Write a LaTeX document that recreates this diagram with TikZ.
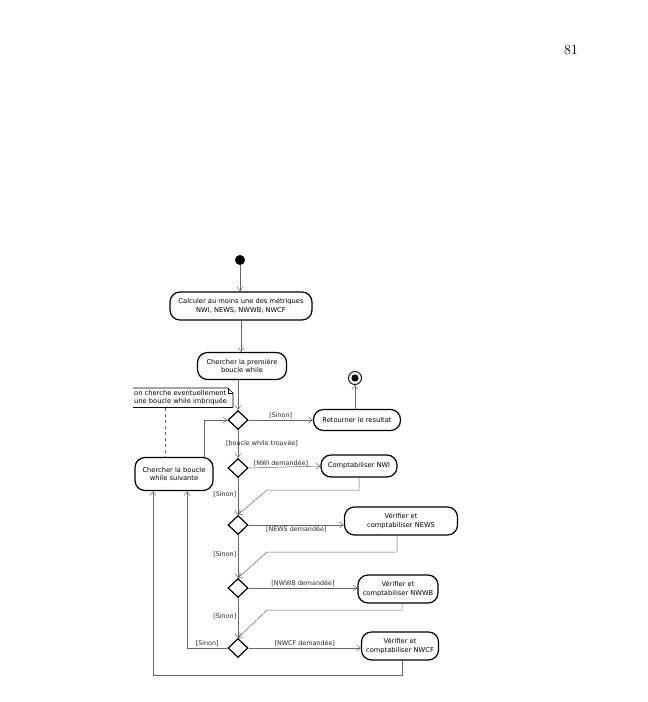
\documentclass[tikz,border=0pt]{standalone}
\usepackage{fontspec}
\newfontfamily\umlfont{DejaVu Sans}
\usetikzlibrary{arrows.meta,shapes.geometric,calc}
\begin{document}
\begin{tikzpicture}[x=1pt,y=-1pt,
  act/.style={draw=black,line width=1.2pt,rounded corners=10pt,
    font=\umlfont\fontsize{6.7}{8.6}\selectfont,align=center,inner sep=0pt},
  dec/.style={draw=black,line width=1.2pt,diamond,inner sep=0pt,
    minimum width=20pt,minimum height=19pt},
  flow/.style={draw=black!60,line width=0.5pt,-{Straight Barb[length=4pt,width=6pt]}},
  guard/.style={font=\umlfont\fontsize{6.4}{7.5}\selectfont,inner sep=0.5pt,text=black!85}]
\useasboundingbox (0,0) rectangle (648,702);
\node[font=\fontsize{14}{16}\selectfont] (pg) at (571,50) {81};

\node[circle,fill=black,minimum size=10pt,inner sep=0pt] (start) at (240,260) {};
\node[act,minimum width=142pt,minimum height=28pt] (calc) at (241,306)
  {Calculer au moins une des métriques\\NWI, NEWS, NWWB, NWCF};
\node[act,minimum width=89pt,minimum height=27pt] (first) at (242,366)
  {Chercher la première\\boucle while};
\node[circle,draw=black,line width=0.9pt,minimum size=13pt,inner sep=0pt] (end) at (355,378) {};
\fill[black] (end.center) circle (3.6pt);

\node[dec] (d1) at (238,420) {};
\node[dec] (d2) at (238,468) {};
\node[dec] (d3) at (238,525) {};
\node[dec] (d4) at (238,588) {};
\node[dec] (d5) at (238,648) {};

\node[act,minimum width=87pt,minimum height=21pt] (ret) at (357,420) {Retourner le resultat};
\node[act,minimum width=76pt,minimum height=22pt] (nwi) at (359,466) {Comptabiliser NWI};
\node[act,minimum width=113pt,minimum height=28pt] (news) at (401,521) {Vérifier et\\comptabiliser NEWS};
\node[act,minimum width=80pt,minimum height=28pt] (nwwb) at (398,589) {Vérifier et\\comptabiliser NWWB};
\node[act,minimum width=77pt,minimum height=28pt] (nwcf) at (400,646) {Vérifier et\\comptabiliser NWCF};
\node[act,minimum width=78pt,minimum height=33pt] (next) at (174,474) {Chercher la boucle\\while suivante};

% note
\node[font=\umlfont\fontsize{6.7}{8.6}\selectfont,align=left,inner sep=0pt,anchor=west] (note) at (134,397.5)
  {on cherche eventuellement\\une boucle while imbriquée};
\draw[black,line width=0.6pt] (133,388) -- (228,388) -- (233,393) -- (233,407);
\draw[black,line width=0.6pt] (228,388) -- (228,393) -- (233,393);
\draw[black,line width=1.2pt] (133,407.5) -- (233,407.5);
\coordinate (nb) at (165,408);
\draw[black!60,line width=0.6pt,dashed] (nb) -- (nb |- next.north);

% main flow
\draw[flow] (start) -- (start |- calc.north);
\draw[flow] (calc.south) -- (calc.south |- first.north);
\draw[flow] (first.south -| d1) -- (d1.north);
\draw[flow] (d1.east) -- node[guard,above=0.5pt] {[Sinon]} (ret.west);
\draw[flow] (ret.north -| end) -- (end.south);
\draw[flow] (d1.south) -- (d2.north);
\node[guard] (found) at (262,443) {[boucle while trouvée]};

\draw[flow] (d2.east) -- node[guard,above=0.5pt,pos=0.45] {[NWI demandée]} (nwi.west);
\draw[flow] (d2.south) -- node[guard,left=1pt,pos=0.45] {[Sinon]} (d3.north);
\draw[flow] (d3.east) -- node[guard,below=1pt,pos=0.5] {[NEWS demandée]} (news.west |- d3.east);
\draw[flow] (d3.south) -- node[guard,left=1pt,pos=0.45] {[Sinon]} (d4.north);
\draw[flow] (d4.east) -- node[guard,above=0.5pt,pos=0.5] {[NWWB demandée]} (nwwb.west |- d4.east);
\draw[flow] (d4.south) -- node[guard,left=1pt,pos=0.45] {[Sinon]} (d5.north);
\draw[flow] (d5.east) -- node[guard,above=0.5pt,pos=0.5] {[NWCF demandée]} (nwcf.west |- d5.east);

% merges back
\coordinate (m1) at (267,490);
\draw[flow] (nwi.south) -- (nwi.south |- m1) -- (m1) -- (d3.north);
\coordinate (m2) at (267,552);
\draw[flow] (news.south -| 397,0) -- (397,552) -- (m2) -- (d4.north);
\coordinate (m3) at (267,610);
\draw[flow] (nwwb.south -| 402,0) -- (402,610) -- (m3) -- (d5.north);

% loops back
\coordinate (l1) at (153,675);
\draw[flow] (nwcf.south -| 402,0) -- (402,675) -- (l1) -- (l1 |- next.south);
\coordinate (l2) at (187,648);
\draw[flow] (d5.west) -- node[guard,above=1pt,pos=0.5] {[Sinon]} (l2) -- (l2 |- next.south);
\coordinate (l3) at (204,420);
\draw[flow] (l3 |- next.north) -- (l3) -- (d1.west);
\end{tikzpicture}
\end{document}
